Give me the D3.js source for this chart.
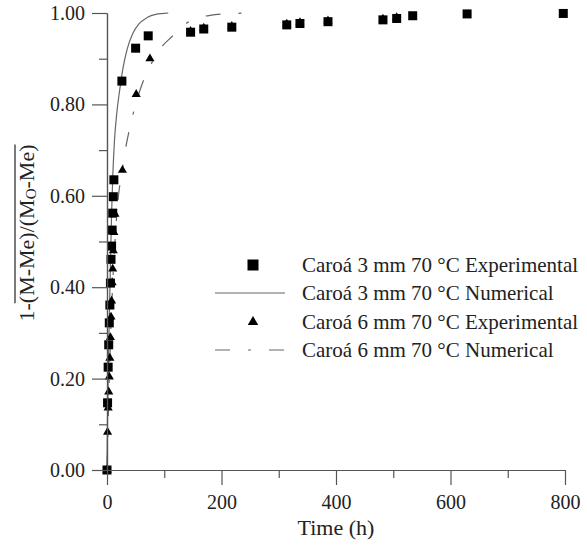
<!DOCTYPE html>
<html>
<head>
<meta charset="utf-8">
<script src="https://cdn.jsdelivr.net/npm/d3@7"></script>
</head>
<body style="margin:0">
<script>

// Caroa 3 mm experimental points (squares)
var sqTime  = [0, 1, 2, 3, 4, 5, 6, 7, 8, 9, 10, 11, 12, 26, 50, 72, 146, 169, 218, 314, 337, 386, 482, 506, 534, 629, 797];
var sqValue = [0, 0.147, 0.225, 0.274, 0.322, 0.361, 0.409, 0.461, 0.49, 0.525, 0.562, 0.598, 0.635, 0.851, 0.923, 0.95,
               0.958, 0.965, 0.969, 0.974, 0.977, 0.981, 0.985, 0.988, 0.994, 0.998, 0.999];

// Caroa 6 mm experimental points (triangles)
var triTime  = [0, 1, 2, 3, 4, 5, 6, 7, 8, 9, 10, 11, 12, 14, 27, 51, 75, 146, 169, 218, 314, 337, 386, 482, 506];
var triValue = [0, 0.083, 0.136, 0.171, 0.204, 0.245, 0.29, 0.335, 0.37, 0.41, 0.44, 0.48, 0.52, 0.56, 0.656, 0.822, 0.90,
                0.96, 0.967, 0.971, 0.976, 0.979, 0.983, 0.987, 0.99];

// numerical curves
var num3Time  = [0, 1, 2, 4, 6, 8, 10, 13, 17, 22, 28, 35, 45, 55, 70, 85, 100, 107];
var num3Value = [0, 0.12, 0.2, 0.33, 0.45, 0.56, 0.64, 0.72, 0.78, 0.83, 0.88, 0.92, 0.955, 0.975, 0.99, 0.997, 0.999, 1.0];

var num6Time  = [0, 2, 4, 6, 8, 10, 13, 16, 20, 26, 32, 40, 50, 63, 80, 95, 113, 130, 150, 180, 220, 265];
var num6Value = [0, 0.1, 0.2, 0.28, 0.35, 0.41, 0.48, 0.54, 0.6, 0.65, 0.7, 0.75, 0.8, 0.85, 0.895, 0.925, 0.948, 0.97, 0.985, 0.995, 0.999, 1.0];

var xTicks = [0, 200, 400, 600, 800];
var xMinor = [100, 300, 500, 700];
var yTicks = [0, 0.2, 0.4, 0.6, 0.8, 1.0];
var yMinor = [0.1, 0.3, 0.5, 0.7, 0.9];

var legendLabels = ["Caroá 3 mm 70 °C Experimental", "Caroá 3 mm 70 °C Numerical",
                    "Caroá 6 mm 70 °C Experimental", "Caroá 6 mm 70 °C Numerical"];

var w = 587, h = 545;
var margin = {top: 13, right: 22, bottom: 75, left: 107};
var width = w - margin.left - margin.right,
    height = h - margin.top - margin.bottom;
var serifFont = "Liberation Serif";

var svg = d3.select("body")
    .append("svg")
    .attr("width", w)
    .attr("height", h);

var g = svg.append("g")
    .attr("transform", "translate(" + margin.left + "," + margin.top + ")");

var x = d3.scaleLinear().domain([0, 800]).range([0, width]);
var y = d3.scaleLinear().domain([0, 1]).range([height, 0]);

var lineColor = "#666";
var axisColor = "#555";

// numerical lines
var line = d3.line()
    .x(function(d) { return x(d[0]); })
    .y(function(d) { return y(d[1]); })
    .curve(d3.curveMonotoneX);

g.append("path")
    .datum(d3.zip(num3Time, num3Value))
    .attr("d", line)
    .attr("fill", "none")
    .attr("stroke", lineColor)
    .attr("stroke-width", 1.2);

var dashDot = "15,18,3,18";
g.append("path")
    .datum(d3.zip(num6Time, num6Value))
    .attr("d", line)
    .attr("fill", "none")
    .attr("stroke", lineColor)
    .attr("stroke-width", 1.2)
    .attr("stroke-dasharray", dashDot);

// markers
var tri = d3.symbol().type(d3.symbolTriangle).size(36);

g.selectAll(".tri")
    .data(d3.zip(triTime, triValue))
    .enter()
    .append("path")
    .attr("class", "tri")
    .attr("d", tri)
    .attr("transform", function(d) { return "translate(" + x(d[0]) + "," + y(d[1]) + ")"; })
    .attr("fill", "#000");

g.selectAll(".sq")
    .data(d3.zip(sqTime, sqValue))
    .enter()
    .append("rect")
    .attr("class", "sq")
    .attr("x", function(d) { return x(d[0]) - 4.5; })
    .attr("y", function(d) { return y(d[1]) - 4.5; })
    .attr("width", 9)
    .attr("height", 9)
    .attr("fill", "#000");

// axes
function styleAxis(sel) {
    sel.attr("font-family", serifFont).attr("font-size", 20);
    sel.select(".domain").attr("stroke", axisColor).attr("stroke-width", 1.2);
    sel.selectAll(".tick line").attr("stroke", axisColor).attr("stroke-width", 1.2);
    sel.selectAll("text").attr("fill", "#222");
}

g.append("g")
    .attr("transform", "translate(0," + height + ")")
    .call(d3.axisBottom(x).tickValues(xMinor).tickSize(8).tickFormat("").tickSizeOuter(0))
    .call(styleAxis);

g.append("g")
    .attr("transform", "translate(0," + height + ")")
    .call(d3.axisBottom(x).tickValues(xTicks).tickSize(15).tickPadding(10).tickFormat(d3.format("d")).tickSizeOuter(0))
    .call(styleAxis);

g.append("g")
    .call(d3.axisLeft(y).tickValues(yMinor).tickSize(8).tickFormat("").tickSizeOuter(0))
    .call(styleAxis);

g.append("g")
    .call(d3.axisLeft(y).tickValues(yTicks).tickSize(15).tickPadding(7).tickFormat(d3.format(".2f")).tickSizeOuter(0))
    .call(styleAxis);

// axis titles
svg.append("text")
    .attr("x", 336)
    .attr("y", 535)
    .attr("text-anchor", "middle")
    .attr("fill", "#222")
    .attr("font-family", serifFont)
    .attr("font-size", 22)
    .text("Time (h)");

var yl = svg.append("g")
    .attr("transform", "translate(34,233) rotate(-90)");

var ylText = yl.append("text")
    .attr("text-anchor", "middle")
    .attr("fill", "#222")
    .attr("font-family", serifFont)
    .attr("font-size", 22);
ylText.append("tspan").text("1-(M-Me)/(M");
ylText.append("tspan").attr("font-size", 15).attr("dy", 2).text("O");
ylText.append("tspan").attr("dy", -2).text("-Me)");

// overline over (M-Me)/(Mo-Me), measured from the rendered glyphs
var node = ylText.node();
var n = node.getNumberOfChars();
var first = node.getExtentOfChar(2), last = node.getExtentOfChar(n - 1);
yl.append("line")
    .attr("x1", first.x)
    .attr("x2", last.x + last.width)
    .attr("y1", first.y + 1)
    .attr("y2", first.y + 1)
    .attr("stroke", "#222")
    .attr("stroke-width", 1.2);

// legend
var legend = svg.append("g");
var rowY = [265, 293, 322, 350];

legend.append("rect")
    .attr("x", 247.5).attr("y", rowY[0] - 5.5)
    .attr("width", 11).attr("height", 11)
    .attr("fill", "#000");

legend.append("line")
    .attr("x1", 215).attr("x2", 285)
    .attr("y1", rowY[1]).attr("y2", rowY[1])
    .attr("stroke", lineColor).attr("stroke-width", 1.2);

legend.append("path")
    .attr("d", d3.symbol().type(d3.symbolTriangle).size(48))
    .attr("transform", "translate(253," + rowY[2] + ")")
    .attr("fill", "#000");

legend.append("line")
    .attr("x1", 215).attr("x2", 285)
    .attr("y1", rowY[3]).attr("y2", rowY[3])
    .attr("stroke", lineColor).attr("stroke-width", 1.2)
    .attr("stroke-dasharray", dashDot);

legend.selectAll(".lab")
    .data(legendLabels)
    .enter()
    .append("text")
    .attr("class", "lab")
    .attr("x", 302)
    .attr("y", function(d, i) { return rowY[i] + 7; })
    .attr("fill", "#222")
    .attr("font-family", serifFont)
    .attr("font-size", 21)
    .text(function(d) { return d; });

</script>
</body>
</html>
